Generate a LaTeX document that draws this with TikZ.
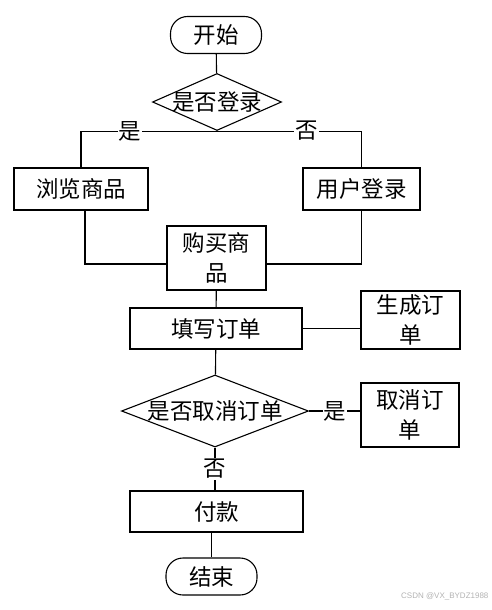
\documentclass[tikz,border=0pt]{standalone}
\usepackage{fontspec}
\setmainfont{Noto Sans CJK SC}
\newfontfamily\markfont{Liberation Sans}
\usetikzlibrary{shapes.geometric}

\begin{document}
\begin{tikzpicture}[x=1pt,y=-1pt,line width=1.1pt,
      every node/.style={font=\fontsize{22.5}{30}\selectfont,align=center,inner sep=0pt},
      terminal/.style={draw,rectangle,rounded corners=17pt,minimum width=91pt,minimum height=37pt},
      procbox/.style={draw,rectangle},
      decision/.style={draw,diamond},
      yesno/.style={fill=white,inner sep=1pt}]
    \useasboundingbox (0,0) rectangle (491,610);
    % nodes
    \node[terminal] (start) at (216,35) {开始};
    \node[decision,minimum width=129pt,minimum height=57pt,label={center:是否登录}] (login) at (217,102) {};
    \node[procbox,minimum width=134pt,minimum height=42pt] (browse) at (81,189) {浏览商品};
    \node[procbox,minimum width=117pt,minimum height=42pt] (user) at (361.5,189) {用户登录};
    \node[procbox,minimum width=99pt,minimum height=64pt] (buy) at (216.5,258) {购买商\\品};
    \node[procbox,minimum width=172pt,minimum height=41pt] (fill) at (216,328.5) {填写订单};
    \node[procbox,minimum width=99pt,minimum height=58pt] (gen) at (410.5,320) {生成订\\单};
    \node[decision,minimum width=187pt,minimum height=72pt,label={center:是否取消订单}] (cancelq) at (215,411) {};
    \node[procbox,minimum width=98pt,minimum height=64pt] (cancel) at (410,415) {取消订\\单};
    \node[procbox,minimum width=173pt,minimum height=41pt] (pay) at (216.5,511.5) {付款};
    \node[terminal] (end) at (211.5,576.5) {结束};
    \node[anchor=east,text=gray!60,font=\markfont\fontsize{8}{10}\selectfont] (mark) at (489,596) {CSDN @VX\_BYDZ1988};
    % connectors
    \draw (start) -- (login);
    \draw (login.south) -| (browse.north) node[yesno,pos=0.32] {是};
    \draw (login.south) -| (user.north) node[yesno,pos=0.31] {否};
    \draw ([xshift=4pt]browse.south) |- ([yshift=-6pt]buy.west);
    \draw (user.south) |- ([yshift=-6pt]buy.east);
    \draw (buy) -- (fill);
    \draw (fill.east) -- (fill.east -| gen.west);
    \draw (fill) -- (cancelq);
    \draw (cancelq.east) -- (cancelq.east -| cancel.west) node[yesno,midway] {是};
    \draw (cancelq.south) -- (cancelq.south |- pay.north) node[yesno,midway] {否};
    \draw (end.north |- pay.south) -- (end.north);
  \end{tikzpicture}
\end{document}
